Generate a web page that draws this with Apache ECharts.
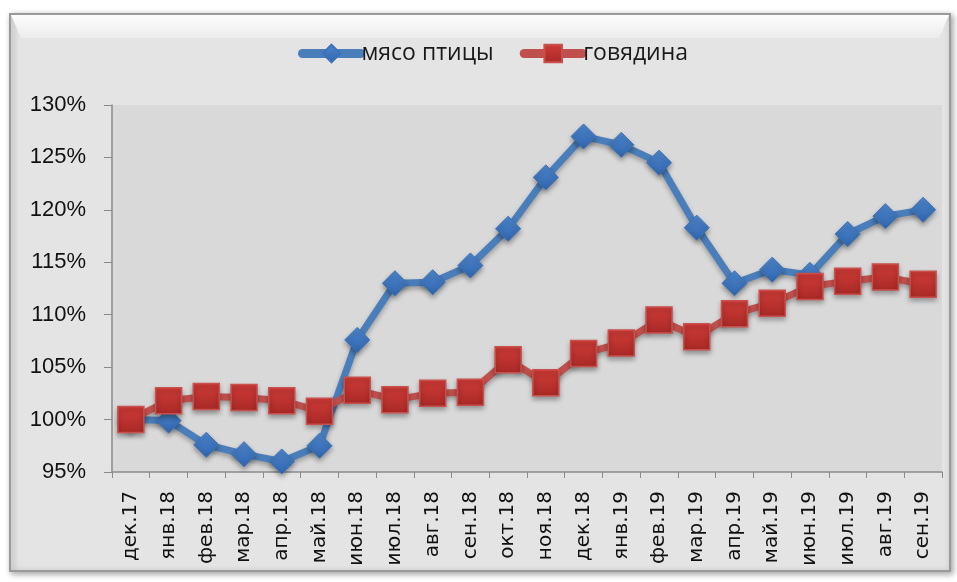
<!DOCTYPE html>
<html>
<head>
<meta charset="utf-8">
<script src="https://cdn.jsdelivr.net/npm/echarts@6/dist/echarts.min.js"></script>
<style>
  html, body { margin: 0; padding: 0; background: #fff; }
  #main { width: 957px; height: 582px; }
</style>
</head>
<body>
<div id="main"></div>
<script>
const months = ['дек.17', 'янв.18', 'фев.18', 'мар.18', 'апр.18', 'май.18', 'июн.18', 'июл.18',
  'авг.18', 'сен.18', 'окт.18', 'ноя.18', 'дек.18', 'янв.19', 'фев.19', 'мар.19',
  'апр.19', 'май.19', 'июн.19', 'июл.19', 'авг.19', 'сен.19'];

// индекс цен, % к дек.17
const poultry = [100.0, 99.9, 97.6, 96.7, 96.0, 97.5, 107.6, 113.0, 113.1, 114.7, 118.2,
  123.1, 127.0, 126.2, 124.5, 118.3, 113.0, 114.3, 113.8, 117.7, 119.4, 120.0];
const beef = [100.0, 101.8, 102.2, 102.1, 101.8, 100.8, 102.8, 101.9, 102.5, 102.6, 105.7,
  103.5, 106.3, 107.3, 109.5, 107.9, 110.1, 111.1, 112.7, 113.2, 113.6, 112.9];

const yTicks = { min: 95, max: 130, step: 5 };

const chart = echarts.init(document.getElementById('main'));

chart.setOption({
  animation: false,
  backgroundColor: '#ffffff',
  graphic: [
    {
      type: 'rect',
      z: -10,
      shape: { x: 10, y: 14, width: 940, height: 557 },
      style: {
        fill: '#e4e4e4',
        stroke: '#9a9a9a',
        lineWidth: 2,
        shadowBlur: 6,
        shadowColor: 'rgba(0,0,0,0.35)',
        shadowOffsetX: 2,
        shadowOffsetY: 2
      }
    },
    {
      type: 'polygon',
      z: -9,
      shape: { points: [[11, 15], [949, 15], [939, 38], [21, 38]] },
      style: {
        fill: new echarts.graphic.LinearGradient(0, 0, 0, 1, [
          { offset: 0, color: '#fdfdfd' },
          { offset: 1, color: '#ececec' }
        ])
      }
    }
  ],
  legend: {
    top: 37,
    left: 293,
    itemGap: 26,
    itemWidth: 58,
    itemHeight: 22,
    lineStyle: { width: 9, cap: 'round' },
    textStyle: { fontFamily: 'Open Sans', fontSize: 23, color: '#1a1a1a', padding: [0, 0, 0, -4] },
    data: ['мясо птицы', 'говядина']
  },
  grid: {
    left: 112,
    right: 15,
    top: 105,
    bottom: 110,
    show: true,
    backgroundColor: '#d9d9d9',
    borderWidth: 0
  },
  xAxis: {
    type: 'category',
    data: months,
    boundaryGap: true,
    axisLine: { lineStyle: { color: '#8a8a8a', width: 1.5 } },
    axisTick: { show: true, length: 6, alignWithLabel: false, lineStyle: { color: '#8a8a8a' } },
    axisLabel: {
      rotate: 90,
      margin: 19,
      fontFamily: 'DejaVu Sans',
      fontSize: 20,
      color: '#111'
    },
    splitLine: { show: false }
  },
  yAxis: {
    type: 'value',
    min: yTicks.min,
    max: yTicks.max,
    interval: yTicks.step,
    axisLine: { show: true, lineStyle: { color: '#8a8a8a', width: 1.5 } },
    axisTick: { show: true, length: 8, lineStyle: { color: '#8a8a8a' } },
    axisLabel: {
      formatter: '{value}%',
      margin: 26,
      fontFamily: 'Liberation Sans',
      fontSize: 22,
      color: '#111'
    },
    splitLine: { show: false }
  },
  series: [
    {
      name: 'мясо птицы',
      type: 'line',
      data: poultry,
      symbol: 'diamond',
      symbolSize: 25,
      lineStyle: {
        color: '#4a7ebb',
        width: 7,
        shadowBlur: 5,
        shadowColor: 'rgba(0,0,0,0.3)',
        shadowOffsetY: 3
      },
      itemStyle: {
        color: new echarts.graphic.LinearGradient(0, 0, 0, 1, [
          { offset: 0, color: '#4f86cc' },
          { offset: 1, color: '#2f65ad' }
        ]),
        borderColor: '#3c72b8',
        borderWidth: 1,
        shadowBlur: 5,
        shadowColor: 'rgba(0,0,0,0.35)',
        shadowOffsetY: 3
      },
      z: 2
    },
    {
      name: 'говядина',
      type: 'line',
      data: beef,
      symbol: 'rect',
      symbolSize: 26,
      lineStyle: {
        color: '#c0504d',
        width: 7,
        shadowBlur: 5,
        shadowColor: 'rgba(0,0,0,0.3)',
        shadowOffsetY: 3
      },
      itemStyle: {
        color: new echarts.graphic.LinearGradient(0, 0, 0, 1, [
          { offset: 0, color: '#d13c38' },
          { offset: 1, color: '#a82926' }
        ]),
        borderColor: '#c9504c',
        borderWidth: 1.5,
        shadowBlur: 5,
        shadowColor: 'rgba(0,0,0,0.35)',
        shadowOffsetY: 3
      },
      z: 3
    }
  ]
});
</script>
</body>
</html>
